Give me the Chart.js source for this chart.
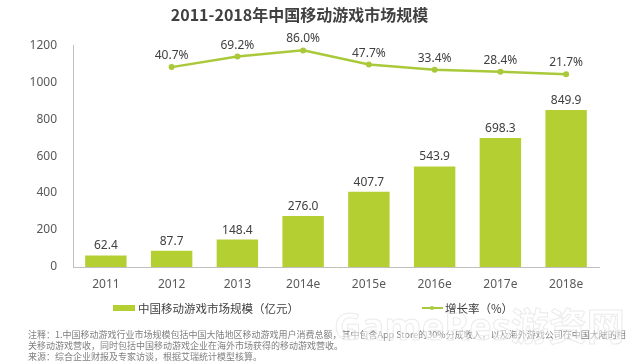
<!DOCTYPE html>
<html lang="zh-CN">
<head>
<meta charset="UTF-8">
<title>2011-2018年中国移动游戏市场规模</title>
<script src="https://cdn.jsdelivr.net/npm/chart.js"></script>
<style>
  body { margin: 0; background: #fff; }
  #wrap { position: relative; width: 640px; height: 364px; overflow: hidden;
          font-family: "Noto Sans CJK SC", "Noto Sans", sans-serif; }
  #chart { position: absolute; left: 0; top: 0; }
  /* 凡例 */
  .lg { position: absolute; top: 300px; font-size: 11.5px; color: #404040; line-height: 16px; white-space: nowrap; }
  .lg-box { position: absolute; top: 305px; left: 113px; width: 22px; height: 6px; background: #b3cf32; }
  .lg-line { position: absolute; top: 307px; left: 422px; width: 21px; height: 2px; background: #a9c93b; }
  .lg-dot { position: absolute; top: 306px; left: 430px; width: 4px; height: 4px; border-radius: 2px; background: #a9c93b; }
  /* 注釈 */
  #note { position: absolute; left: 28px; top: 329px; font-size: 9px; line-height: 11px; color: #808080; white-space: nowrap; }
  #wm { position: absolute; left: 334px; top: 296px; font: bold 38px "Open Sans", "Noto Sans CJK SC", sans-serif;
        color: rgba(255,255,255,0.5); -webkit-text-stroke: 1px rgba(215,215,215,0.5); white-space: nowrap; }
</style>
</head>
<body>
<div id="wrap">
  <canvas id="chart" width="640" height="364"></canvas>
  <div class="lg-box"></div>
  <div class="lg" style="left:138px">中国移动游戏市场规模（亿元）</div>
  <div class="lg-line"></div>
  <div class="lg-dot"></div>
  <div class="lg" style="left:445px">增长率（%）</div>
  <div id="note">注释：1.中国移动游戏行业市场规模包括中国大陆地区移动游戏用户消费总额，其中包含App Store的30%分成收入，以及海外游戏公司在中国大陆的相<br>关移动游戏营收，同时包括中国移动游戏企业在海外市场获得的移动游戏营收。<br>来源：综合企业财报及专家访谈，根据艾瑞统计模型核算。</div>
  <div id="wm">GameRes游资网</div>
</div>
<script>
// データ
var years = ['2011', '2012', '2013', '2014e', '2015e', '2016e', '2017e', '2018e'];
var marketSize = [62.4, 87.7, 148.4, 276.0, 407.7, 543.9, 698.3, 849.9]; // 亿元
var growthRate = [null, 40.7, 69.2, 86.0, 47.7, 33.4, 28.4, 21.7];       // %
var yTicks = [0, 200, 400, 600, 800, 1000, 1200];

var barColor = '#b3cf32';
var lineColor = '#a9c93b';
var textColor = '#404040';
var tickColor = '#595959';

// 棒と折れ線の上に数値を描く
var valueLabels = {
  id: 'valueLabels',
  afterDatasetsDraw: function (chart) {
    var ctx = chart.ctx;
    ctx.save();
    ctx.font = '12px "Noto Sans", sans-serif';
    ctx.fillStyle = textColor;
    ctx.textAlign = 'center';
    ctx.textBaseline = 'alphabetic';
    chart.getDatasetMeta(1).data.forEach(function (bar, i) {
      ctx.fillText(marketSize[i].toFixed(1), bar.x, bar.y - 6);
    });
    chart.getDatasetMeta(0).data.forEach(function (pt, i) {
      if (growthRate[i] == null) return;
      ctx.fillText(growthRate[i].toFixed(1) + '%', pt.x, pt.y - 8);
    });
    ctx.restore();
  }
};

new Chart(document.getElementById('chart'), {
  type: 'bar',
  data: {
    labels: years,
    datasets: [{
      type: 'line',
      label: '增长率（%）',
      data: growthRate,
      yAxisID: 'y1',
      borderColor: lineColor,
      backgroundColor: lineColor,
      borderWidth: 2.5,
      pointRadius: 3,
      pointBorderWidth: 0,
      tension: 0,
      order: 0
    }, {
      label: '中国移动游戏市场规模（亿元）',
      data: marketSize,
      yAxisID: 'y',
      backgroundColor: barColor,
      categoryPercentage: 1,
      barPercentage: 0.63,
      order: 1
    }]
  },
  options: {
    responsive: false,
    devicePixelRatio: 1,
    animation: false,
    layout: { padding: { left: 0, right: 41, top: 0, bottom: 67 } },
    plugins: {
      legend: { display: false },
      tooltip: { enabled: false },
      title: {
        display: true,
        text: '2011-2018年中国移动游戏市场规模',
        color: textColor,
        font: { family: '"Noto Sans CJK SC", sans-serif', size: 16, weight: 'bold', lineHeight: 1.2 },
        padding: { top: 5, bottom: 21 }
      }
    },
    scales: {
      x: {
        grid: { display: false, drawTicks: false },
        border: { display: true, color: '#bfbfbf' },
        ticks: { padding: 10, color: tickColor, font: { family: '"Noto Sans", sans-serif', size: 12 } },
        afterFit: function (s) { s.height = 30; }
      },
      y: {
        min: 0,
        max: 1200,
        afterBuildTicks: function (s) { s.ticks = yTicks.map(function (v) { return { value: v }; }); },
        grid: { display: false, drawTicks: false },
        border: { display: true, color: '#bfbfbf' },
        ticks: {
          padding: 16, color: tickColor, font: { family: '"Noto Sans", sans-serif', size: 12 },
          callback: function (v) { return String(v); }
        },
        afterFit: function (s) { s.width = 73; }
      },
      y1: { display: false, min: -500, max: 100 }
    }
  },
  plugins: [valueLabels]
});
</script>
</body>
</html>
